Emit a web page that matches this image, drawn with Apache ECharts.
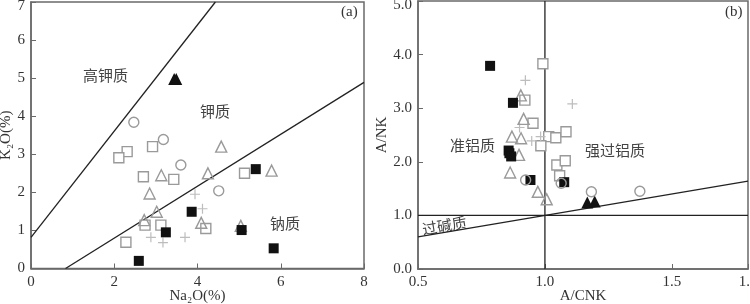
<!DOCTYPE html>
<html><head><meta charset="utf-8">
<script src="https://cdn.jsdelivr.net/npm/echarts@6/dist/echarts.min.js"></script>
<style>html,body{margin:0;padding:0;background:#fff}#c{width:750px;height:304px}</style>
</head><body><div id="c"></div>
<script>
// ---- Panel (a): Na2O vs K2O ----
const aBlackSquares = [[2.59,0.20],[3.24,0.95],[3.86,1.49],[5.06,1.01],[5.40,2.61],[5.83,0.53]];
const aBlackTriangles = [[3.44,4.98],[3.49,4.98]];
const aGreySquares = [[2.31,3.07],[2.92,3.20],[2.11,2.91],[2.70,2.41],[3.43,2.34],[5.13,2.50],[2.74,1.14],[3.12,1.14],[4.20,1.05],[2.28,0.69]];
const aGreyTriangles = [[4.57,3.20],[3.13,2.45],[4.25,2.50],[5.78,2.57],[2.85,1.97],[3.02,1.49],[2.72,1.27],[4.09,1.20],[5.04,1.12]];
const aGreyCircles = [[2.47,3.84],[3.18,3.39],[3.60,2.72],[4.51,2.04]];
const aGreyPlus = [[3.94,1.95],[4.12,1.57],[2.88,0.82],[3.17,0.68],[3.70,0.82]];
const aLine1 = [[0,0.82],[4.43,7]];
const aLine2 = [[0.83,0],[8,4.89]];
const aXTicks = {min:0, max:8, interval:2};
const aYTicks = {min:0, max:7, interval:1};

// ---- Panel (b): A/CNK vs A/NK ----
const bBlackSquares = [[0.784,3.79],[0.874,3.10],[0.857,2.21],[0.860,2.16],[0.867,2.10],[0.943,1.66],[1.076,1.62]];
const bBlackTriangles = [[1.167,1.24],[1.196,1.26]];
const bGreySquares = [[0.992,3.83],[0.921,3.15],[0.953,2.72],[1.015,2.47],[1.043,2.45],[1.083,2.56],[0.984,2.30],[1.047,1.94],[1.080,2.02],[1.058,1.74]];
const bGreyTriangles = [[0.905,3.24],[0.916,2.80],[0.870,2.47],[0.906,2.44],[0.898,2.13],[0.863,1.80],[0.972,1.44],[1.007,1.30]];
const bGreyCircles = [[0.924,1.66],[1.064,1.60],[1.183,1.44],[1.374,1.45]];
const bGreyPlus = [[0.923,3.52],[1.108,3.08],[0.900,2.64],[0.948,2.39],[0.983,2.47]];
const bLineV = [[1,0],[1,5]];
const bLineH = [[0.5,1],[1.8,1]];
const bLineD = [[0.5,0.6],[1.8,1.64]];
const bXTicks = {min:0.5, max:1.8, interval:0.5};
const bYTicks = {min:0, max:5, interval:1};

const serif = '"Liberation Serif","Times New Roman",serif';
const cjk = '"Noto Sans CJK SC",sans-serif';
const axisCol = '#6a6a6a';
const grey = '#9a9a9a';
const plusCol = '#bdbdbd';
const plusPath = 'path://M4.4,0L5.6,0L5.6,4.4L10,4.4L10,5.6L5.6,5.6L5.6,10L4.4,10L4.4,5.6L0,5.6L0,4.4L4.4,4.4Z';

function xAx(idx, t, name, gap, fmt){
  return {gridIndex:idx, type:'value', min:t.min, max:t.max, interval:t.interval,
    name:name, nameLocation:'middle', nameGap:gap, nameMoveOverlap:false,
    nameTextStyle:{fontFamily:serif, fontSize:15, color:'#333'},
    axisLine:{show:true, onZero:false, lineStyle:{color:axisCol, width:1.5}},
    axisTick:{show:true, inside:true, length:5, lineStyle:{color:axisCol}},
    axisLabel:{fontFamily:serif, fontSize:15, color:'#333', margin:6, formatter:fmt, showMaxLabel:true, showMinLabel:true},
    splitLine:{show:false}};
}
function yAx(idx, t, name, gap, fmt){
  return {gridIndex:idx, type:'value', min:t.min, max:t.max, interval:t.interval,
    name:name, nameLocation:'middle', nameGap:gap, nameMoveOverlap:false,
    nameTextStyle:{fontFamily:serif, fontSize:15, color:'#333'},
    axisLine:{show:true, onZero:false, lineStyle:{color:axisCol, width:1.5}},
    axisTick:{show:true, inside:true, length:5, lineStyle:{color:axisCol}},
    axisLabel:{fontFamily:serif, fontSize:15, color:'#333', margin:6,
      formatter:function(v){ const s = fmt(v); return v === t.max ? '{top|' + s + '}' : s; },
      rich:{top:{fontFamily:serif, fontSize:15, color:'#333', padding:[8,0,0,0]}}},
    splitLine:{show:false}};
}
function sc(idx, data, symbol, size, fill, stroke, z){
  return {type:'scatter', xAxisIndex:idx, yAxisIndex:idx, data:data, symbol:symbol, symbolSize:size,
    itemStyle:{color:fill, borderColor:stroke, borderWidth: stroke ? 1.4 : 0, opacity:1}, z:z||3, silent:true};
}
function ln(idx, data){
  return {type:'line', xAxisIndex:idx, yAxisIndex:idx, data:data, symbol:'none',
    lineStyle:{color:'#222', width:1.3}, z:2, silent:true, animation:false};
}

const option = {
  animation:false,
  grid:[
    {left:31, top:2, width:333, height:266.5, show:true, borderColor:axisCol, borderWidth:1.5, containLabel:false, outerBoundsMode:'none'},
    {left:418, top:1, width:330, height:268, show:true, borderColor:axisCol, borderWidth:1.5, containLabel:false, outerBoundsMode:'none'}
  ],
  xAxis:[
    xAx(0, aXTicks, 'Na\u2082O(%)', 20, v=>String(v)),
    xAx(1, bXTicks, 'A/CNK', 20, v=>v.toFixed(1))
  ],
  yAxis:[
    yAx(0, aYTicks, 'K\u2082O(%)', 17, v=>String(v)),
    yAx(1, bYTicks, 'A/NK', 28, v=>v.toFixed(1))
  ],
  series:[
    ln(0, aLine1), ln(0, aLine2),
    sc(0, aGreyCircles, 'circle', 10, '#fff', grey, 3),
    sc(0, aGreySquares, 'rect', 10, '#fff', grey, 3),
    sc(0, aGreyTriangles, 'triangle', 11, 'rgba(255,255,255,0)', grey, 4),
    sc(0, aGreyPlus, plusPath, 10, plusCol, null, 3),
    sc(0, aBlackSquares, 'rect', 10, '#111', null, 5),
    sc(0, aBlackTriangles, 'triangle', 12, '#111', null, 5),
    ln(1, bLineV), ln(1, bLineH), ln(1, bLineD),
    sc(1, bGreyCircles, 'circle', 10, 'rgba(255,255,255,0)', grey, 6),
    sc(1, bGreySquares, 'rect', 10, '#fff', grey, 3),
    sc(1, bGreyTriangles, 'triangle', 11, 'rgba(255,255,255,0)', grey, 4),
    sc(1, bGreyPlus, plusPath, 10, plusCol, null, 3),
    sc(1, bBlackSquares, 'rect', 10, '#111', null, 5),
    sc(1, bBlackTriangles, 'triangle', 12, '#111', null, 5)
  ],
  graphic:[
    {type:'text', left:83, top:68, style:{text:'高钾质', font:'15px '+cjk, fill:'#444'}},
    {type:'text', left:200, top:104, style:{text:'钾质', font:'15px '+cjk, fill:'#444'}},
    {type:'text', left:270, top:216, style:{text:'钠质', font:'15px '+cjk, fill:'#444'}},
    {type:'text', left:341, top:5, style:{text:'(a)', font:'15px '+serif, fill:'#333'}},
    {type:'text', left:450, top:138, style:{text:'准铝质', font:'15px '+cjk, fill:'#444'}},
    {type:'text', left:585, top:143, style:{text:'强过铝质', font:'15px '+cjk, fill:'#444'}},
    {type:'text', x:421, y:222, rotation:0.17, style:{text:'过碱质', font:'15px '+cjk, fill:'#444'}},
    {type:'text', left:725, top:5, style:{text:'(b)', font:'15px '+serif, fill:'#333'}}
  ]
};
const chart = echarts.init(document.getElementById('c'), null, {renderer:'canvas'});
chart.setOption(option);
</script></body></html>
